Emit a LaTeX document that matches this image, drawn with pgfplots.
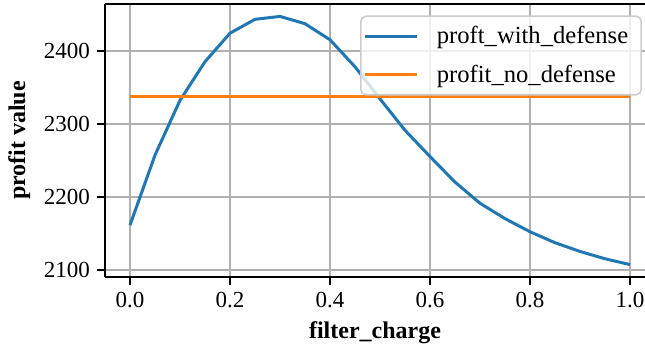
\documentclass[border=0pt]{standalone}
\usepackage{fontspec}
\setmainfont{Liberation Serif}
\usepackage{pgfplots}
\pgfplotsset{compat=1.18}

\definecolor{tabblue}{HTML}{1F77B4}
\definecolor{taborange}{HTML}{FF7F0E}
\definecolor{gridgray}{HTML}{B0B0B0}
\definecolor{legendedge}{HTML}{CCCCCC}

\pgfplotstableread{
x     y
0.00  2161
0.05  2257
0.10  2332
0.15  2385
0.20  2424
0.25  2443
0.30  2447
0.35  2437
0.40  2415
0.45  2378
0.50  2334
0.55  2291
0.60  2255
0.65  2220
0.70  2191
0.75  2170
0.80  2152
0.85  2137
0.90  2125
0.95  2115
1.00  2107
}\withdefense

\pgfplotstableread{
x     y
0.00  2337
1.00  2337
}\nodefense

\begin{document}
\begin{tikzpicture}
\begin{axis}[
  scale only axis,
  width=270pt, height=136.5pt,
  xmin=-0.05, xmax=1.03,
  ymin=2090, ymax=2464,
  axis x line*=box,
  axis y line*=left,
  axis line style={line width=0.8pt, black},
  tick align=outside,
  xtick pos=bottom,
  ytick pos=left,
  major tick length=4pt,
  every tick/.style={black, line width=0.8pt},
  xtick={0,0.2,0.4,0.6,0.8,1.0},
  ytick={2100,2200,2300,2400},
  /pgf/number format/assume math mode=true,
  xticklabel style={/pgf/number format/.cd, fixed, fixed zerofill, precision=1},
  yticklabel style={/pgf/number format/1000 sep={}},
  tick label style={font=\fontsize{11.5}{13}\selectfont},
  grid=major,
  major grid style={gridgray, line width=0.8pt},
  xlabel={\textbf{filter\_charge}},
  ylabel={\textbf{profit value}},
  label style={font=\fontsize{12}{14}\selectfont},
  legend style={
    at={(rel axis cs:0.9944,0.958)}, anchor=north east,
    draw=legendedge, line width=0.8pt, rounded corners=2.5pt,
    fill=white, fill opacity=0.8, text opacity=1,
    font=\fontsize{12.3}{15}\selectfont,
    row sep=5.3pt, inner xsep=1.5pt, inner ysep=2.8pt,
  },
  legend cell align=left,
  legend image code/.code={%
    \draw[#1, line width=1.5pt] (0pt,0pt) -- (26pt,0pt);
    \path (33pt,0pt);},
]
\addplot[tabblue, line width=1.5pt] table[x=x, y=y] {\withdefense};
\addlegendentry{proft\_with\_defense\hspace*{3pt}}
\addplot[taborange, line width=1.5pt] table[x=x, y=y] {\nodefense};
\addlegendentry{profit\_no\_defense}
\end{axis}
\pgfresetboundingbox
\path ([shift={(-52.5pt,-38.5pt)}]current axis.south west)
  rectangle ([shift={(0pt,2pt)}]current axis.north east);
\end{tikzpicture}
\end{document}
